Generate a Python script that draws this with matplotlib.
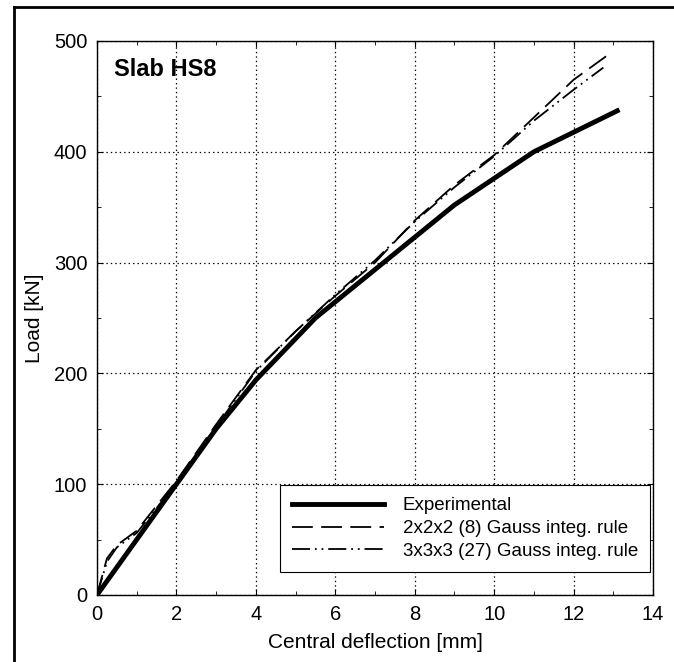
import numpy as np
import matplotlib
matplotlib.use('Agg')
import matplotlib.pyplot as plt
from matplotlib.lines import Line2D

plt.rcParams['font.family'] = ['Liberation Sans', 'DejaVu Sans']
plt.rcParams['lines.scale_dashes'] = False
plt.rcParams['xtick.direction'] = 'in'
plt.rcParams['ytick.direction'] = 'in'
plt.rcParams['xtick.major.size'] = 4
plt.rcParams['ytick.major.size'] = 4
plt.rcParams['xtick.minor.size'] = 3
plt.rcParams['ytick.minor.size'] = 3

# data
exp_x = [0, 1, 2, 3, 4, 5.5, 9, 11, 13.1]
exp_y = [0, 50, 100, 150, 194, 250, 352, 400, 437]

g8_x = [0, 0.25, 0.5, 1, 2, 3, 4, 5, 6, 7, 8, 9, 10, 11, 12, 12.85]
g8_y = [0, 33, 45, 58, 103, 154, 203, 238, 270, 300, 338, 370, 397, 431, 465, 487]

g27_x = [0, 0.25, 0.5, 1, 2, 3, 4, 5, 6, 7, 8, 9, 10, 11, 12, 12.75]
g27_y = [0, 30, 43, 56, 101, 152, 202, 238, 271, 302, 337, 368, 396, 428, 456, 476]

labels = ['Experimental', '2x2x2 (8) Gauss integ. rule', '3x3x3 (27) Gauss integ. rule']

fig = plt.figure(figsize=(6.74, 6.62), dpi=100)
ax = fig.add_axes([97/674, 1-595/662, 556/674, 554/662])

ax.plot(exp_x, exp_y, '-', color='black', linewidth=3.5, label=labels[0])
ax.plot(g8_x, g8_y, color='black', linewidth=1.3, dashes=(15, 6), label=labels[1])
ax.plot(g27_x, g27_y, color='black', linewidth=1.3, dashes=(13, 3.5, 1.3, 3.5, 1.3, 3.5), label=labels[2])

ax.set_xlim(0, 14)
ax.set_ylim(0, 500)
ax.set_xticks(np.arange(0, 15, 2))
ax.set_yticks(np.arange(0, 501, 100))
ax.set_xticks(np.arange(1, 14, 2), minor=True)
ax.set_yticks(np.arange(50, 500, 100), minor=True)
ax.tick_params(which='both', top=True, right=True, labelsize=14.5, pad=7)
ax.grid(True, which='major', color='black', linestyle=(0, (1, 2.2)), linewidth=0.9)
for s in ax.spines.values():
    s.set_linewidth(1.0)

ax.set_xlabel('Central deflection [mm]', fontsize=15, labelpad=7)
ax.set_ylabel('Load [kN]', fontsize=15, labelpad=7)

ax.text(0.03, 0.97, 'Slab HS8', transform=ax.transAxes, fontsize=17, fontweight='bold', va='top', ha='left')

leg = ax.legend(loc='lower right', bbox_to_anchor=((650-97)/556, (595-572)/554), borderaxespad=0,
                fontsize=13.5, handlelength=4.9, handletextpad=1.0, labelspacing=0.3,
                fancybox=False, framealpha=1, edgecolor='black', borderpad=0.65)
leg.get_frame().set_linewidth(0.8)

# outer frame (top and left edges)
fig.add_artist(Line2D([14/674, 1], [1-7/662, 1-7/662], transform=fig.transFigure, color='black', linewidth=2))
fig.add_artist(Line2D([14/674, 14/674], [0, 1-7/662], transform=fig.transFigure, color='black', linewidth=2))

fig.savefig('out.png', dpi=100)
